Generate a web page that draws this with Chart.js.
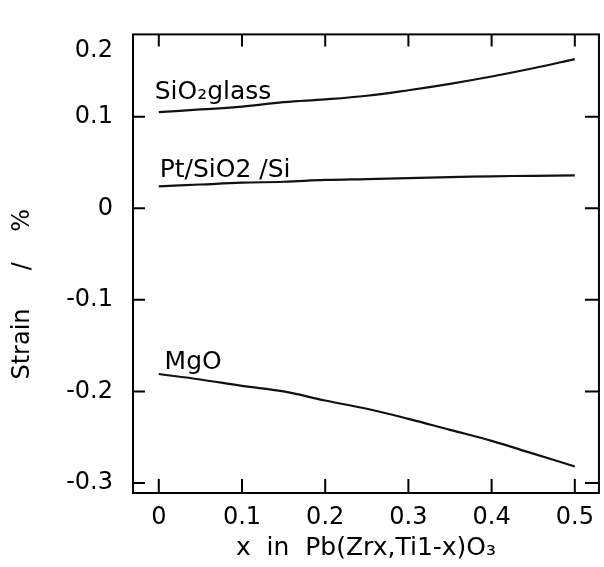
<!DOCTYPE html>
<html>
<head>
<meta charset="utf-8">
<script src="https://cdn.jsdelivr.net/npm/chart.js@4.4.0/dist/chart.umd.min.js"></script>
<style>
  html, body { margin: 0; padding: 0; background: #fff; }
  #wrap { width: 604px; height: 567px; }
</style>
</head>
<body>
<div id="wrap"><canvas id="strainChart"></canvas></div>
<script>
// x in Pb(Zrx,Ti1-x)O3
const xValues = [0, 0.05, 0.1, 0.15, 0.2, 0.25, 0.3, 0.35, 0.4, 0.45, 0.5];
// strain (%) per substrate
const sio2Glass = [0.105, 0.108, 0.111, 0.116, 0.119, 0.123, 0.129, 0.136, 0.144, 0.153, 0.163];
const ptSiO2Si = [0.024, 0.026, 0.028, 0.029, 0.031, 0.032, 0.033, 0.034, 0.035, 0.0355, 0.036];
const mgO = [-0.181, -0.187, -0.194, -0.200, -0.210, -0.219, -0.230, -0.242, -0.254, -0.268, -0.282];

const xTicks = [0, 0.1, 0.2, 0.3, 0.4, 0.5];
const yTicks = [-0.3, -0.2, -0.1, 0, 0.1];

// curve names and where they sit (data units)
const seriesNames = ['SiO₂glass', 'Pt/SiO2 /Si', 'MgO'];
const labelX = [-0.005, 0.001, 0.007];
const labelY = [0.119, 0.034, -0.176];

Chart.defaults.font.family = '"DejaVu Sans", sans-serif';
Chart.defaults.color = '#000';

const toPoints = ys => xValues.map((x, i) => ({ x: x, y: ys[i] }));

// frame, inward ticks, curve names
const frameTicks = {
    id: 'frameTicks',
    afterDraw(chart) {
        const { ctx, chartArea: a, scales: { x, y } } = chart;
        ctx.save();
        ctx.strokeStyle = '#000';
        ctx.lineWidth = 2;
        ctx.strokeRect(a.left, a.top, a.right - a.left, a.bottom - a.top);
        ctx.beginPath();
        x.ticks.forEach(t => {
            const px = x.getPixelForValue(t.value);
            ctx.moveTo(px, a.bottom); ctx.lineTo(px, a.bottom - 14);
            ctx.moveTo(px, a.top); ctx.lineTo(px, a.top + 12);
        });
        y.ticks.forEach(t => {
            const py = y.getPixelForValue(t.value);
            ctx.moveTo(a.left, py); ctx.lineTo(a.left + 12, py);
            ctx.moveTo(a.right, py); ctx.lineTo(a.right - 14, py);
        });
        ctx.stroke();

        ctx.fillStyle = '#000';
        ctx.font = '25px "DejaVu Sans"';
        ctx.textBaseline = 'alphabetic';
        seriesNames.forEach((n, i) => {
            ctx.fillText(n, x.getPixelForValue(labelX[i]), y.getPixelForValue(labelY[i]));
        });

        // the 0.2 label sits just under the top edge, with no tick
        ctx.textAlign = 'right';
        ctx.textBaseline = 'middle';
        ctx.font = '24px "DejaVu Sans"';
        ctx.fillText('0.2', a.left - 20, a.top + 16);
        ctx.restore();
    }
};

const lineStyle = {
    borderColor: '#111',
    borderWidth: 2.2,
    pointRadius: 0,
    tension: 0.4,
    fill: false
};

new Chart(document.getElementById('strainChart'), {
    type: 'line',
    data: {
        datasets: [
            Object.assign({ label: seriesNames[0], data: toPoints(sio2Glass) }, lineStyle),
            Object.assign({ label: seriesNames[1], data: toPoints(ptSiO2Si) }, lineStyle),
            Object.assign({ label: seriesNames[2], data: toPoints(mgO) }, lineStyle)
        ]
    },
    options: {
        responsive: true,
        maintainAspectRatio: false,
        animation: false,
        layout: { padding: { left: 0, right: 2, top: 12, bottom: 0 } },
        plugins: { legend: { display: false }, tooltip: { enabled: false } },
        scales: {
            x: {
                type: 'linear',
                min: -0.031,
                max: 0.529,
                grid: { display: false, drawTicks: false },
                border: { display: false },
                afterBuildTicks: s => { s.ticks = xTicks.map(v => ({ value: v })); },
                afterFit: s => { s.height = 74; },
                ticks: {
                    font: { size: 24 },
                    padding: 10,
                    maxRotation: 0,
                    callback: v => v === 0 ? '0' : v.toFixed(1)
                },
                title: {
                    display: true,
                    text: 'x  in  Pb(Zrx,Ti1-x)O₃',
                    font: { size: 25 },
                    padding: { top: 0, bottom: 4 }
                }
            },
            y: {
                min: -0.311,
                max: 0.19,
                grid: { display: false, drawTicks: false },
                border: { display: false },
                afterBuildTicks: s => { s.ticks = yTicks.map(v => ({ value: v })); },
                afterFit: s => { s.width = 133; },
                ticks: {
                    font: { size: 24 },
                    padding: 20,
                    callback: v => v === 0 ? '0' : v.toFixed(1)
                },
                title: {
                    display: true,
                    text: 'Strain     /    %        ',
                    font: { size: 24 },
                    padding: { top: 8, bottom: 0 }
                }
            }
        }
    },
    plugins: [frameTicks]
});
</script>
</body>
</html>
